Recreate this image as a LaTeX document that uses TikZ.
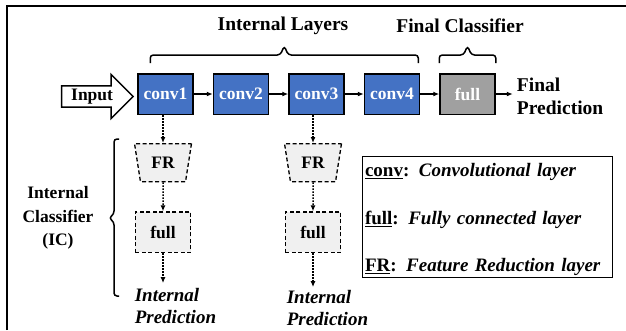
\documentclass[tikz,border=0pt]{standalone}
\usepackage{fontspec}
\setmainfont{Liberation Serif}
\usetikzlibrary{arrows.meta,positioning,shapes.geometric,shapes.arrows,calc}
\definecolor{convblue}{HTML}{4472C4}
\definecolor{fullgray}{HTML}{A0A0A0}
\definecolor{icgray}{HTML}{F0F0F0}
\tikzset{conv/.style={rectangle,draw=black,fill=convblue,line width=1.5pt,minimum width=55pt,minimum height=40.5pt,inner sep=0pt,text=white,font=\fontsize{17.5}{20}\selectfont\bfseries}}
\tikzset{final/.style={conv,fill=fullgray}}
\tikzset{frbox/.style={trapezium,shape border rotate=180,trapezium stretches=true,trapezium angle=75,draw=black,dash pattern=on 4pt off 2.5pt,fill=icgray,line width=1.3pt,minimum width=57pt,minimum height=38pt,inner sep=0pt,font=\fontsize{17.5}{20}\selectfont\bfseries}}
\tikzset{icfull/.style={rectangle,draw=black,dash pattern=on 4pt off 2.5pt,fill=icgray,line width=1.3pt,minimum width=55.5pt,minimum height=40.5pt,inner sep=0pt,font=\fontsize{17.5}{20}\selectfont\bfseries}}
\tikzset{toArrow/.style={-{Latex[length=6pt,width=5pt]},line width=1.2pt}}
\tikzset{dotArrow/.style={-{Latex[length=6pt,width=5pt]},line width=1.5pt,dash pattern=on 1.5pt off 1.5pt}}
\tikzset{bracket/.style={line width=1.5pt,rounded corners=3pt}}
\tikzset{title/.style={font=\fontsize{19.5}{23}\selectfont\bfseries,inner sep=0pt,align=center}}
\tikzset{pred/.style={font=\fontsize{19}{22.5}\selectfont\bfseries\itshape,inner sep=0pt,align=left}}

\begin{document}
\begin{tikzpicture}[x=1pt,y=1pt]
\useasboundingbox (0,0) rectangle (626,-330);
\draw[line width=2pt] (7,-330) -- (7,-6) -- (626,-6);
\begin{scope}[node distance=19pt]
	\node (conv1) [conv] at (165.5,-94) {conv1};
	\node (conv2) [conv, right =of conv1] {conv2};
	\node (conv3) [conv, right =of conv2] {conv3};
	\node (conv4) [conv, right =of conv3] {conv4};
	\node (final) [final, right =of conv4] {full};
	\node (input) [single arrow, draw=black, fill=white, line width=1.5pt, single arrow head extend=11.5pt, minimum height=71.5pt, inner xsep=3pt, inner ysep=2.3pt, font=\fontsize{17.5}{20}\selectfont\bfseries, left =3pt of conv1, yshift=-2.5pt] {Input};
	\node (fpred) [title, align=left, inner xsep=4pt, anchor=west, right =17pt of final, yshift=-2.5pt] {Final\\Prediction};
\end{scope}
\draw[toArrow] (conv1) -- (conv2);
\draw[toArrow] (conv2) -- (conv3);
\draw[toArrow] (conv3) -- (conv4);
\draw[toArrow] (conv4) -- (final);
\draw[toArrow] (final) -- (final -| fpred.west);

% internal classifiers
\node (fr1) [frbox, below =28pt of conv1, xshift=-2.5pt] {FR};
\node (icf1) [icfull, below =29pt of fr1] {full};
\coordinate [below =30pt of icf1] (end1);
\node (fr2) [frbox, below =28pt of conv3, xshift=-3.5pt] {FR};
\node (icf2) [icfull, below =29pt of fr2] {full};
\coordinate [below =34pt of icf2] (end2);
\draw[dotArrow] (fr1.north |- conv1.south) -- (fr1.north);
\draw[dotArrow] (fr1) -- (icf1);
\draw[dotArrow] (icf1) -- (end1);
\draw[dotArrow] (fr2.north |- conv3.south) -- (fr2.north);
\draw[dotArrow] (fr2) -- (icf2);
\draw[dotArrow] (icf2) -- (end2);
\node (pred1) [pred, anchor=north west] at ([yshift=-5pt]end1 -| icf1.west) {Internal\\Prediction};
\node (pred2) [pred, anchor=north west] at ([yshift=-3pt,xshift=2pt]end2 -| icf2.west) {Internal\\Prediction};

% brackets and titles
\coordinate (ilL) at ([xshift=13pt,yshift=10pt]conv1.north west);
\coordinate (ilR) at ([xshift=-2pt,yshift=10pt]conv4.north east);
\coordinate (iltip) at ($(ilL)!0.5!(ilR)+(0,17)$);
\draw[bracket] (ilL) |- ([xshift=-4pt,yshift=-9pt]iltip) -- (iltip) -- ([xshift=4pt,yshift=-9pt]iltip) -| (ilR);
\coordinate (fcL) at ([yshift=10pt]final.north west);
\coordinate (fcR) at ([yshift=10pt]final.north east);
\coordinate (fctip) at ($(fcL)!0.5!(fcR)+(0,17)$);
\draw[bracket] (fcL) |- ([xshift=-4pt,yshift=-9pt]fctip) -- (fctip) -- ([xshift=4pt,yshift=-9pt]fctip) -| (fcR);
\node (iltitle) [title] at (283,-26) {Internal Layers};
\node (fctitle) [title] at (460,-26) {Final Classifier};

\coordinate (icT) at (119,-139);
\coordinate (icB) at (119,-296);
\coordinate (ictip) at (109,-218);
\draw[bracket] (icT) -| ([xshift=5pt,yshift=4pt]ictip) -- (ictip) -- ([xshift=5pt,yshift=-4pt]ictip) |- (icB);
\node (ictitle) [title, font=\fontsize{17.5}{23.5}\selectfont\bfseries] at (58,-218) {Internal\\Classifier\\(IC)};

% legend
\node (legend) [rectangle, draw=black, line width=1.5pt, minimum width=250pt, minimum height=121pt, text width=245pt, inner xsep=2pt, inner ysep=0pt, align=left, font=\fontsize{19}{22}\selectfont\bfseries] at (487.5,-217) {\rule{0pt}{19pt}\underline{conv}: \textit{Convolutional layer}\\[25.5pt]\underline{full}: \textit{Fully connected layer}\\[25.5pt]\underline{FR}: \textit{Feature Reduction layer}};
\end{tikzpicture}
\end{document}
